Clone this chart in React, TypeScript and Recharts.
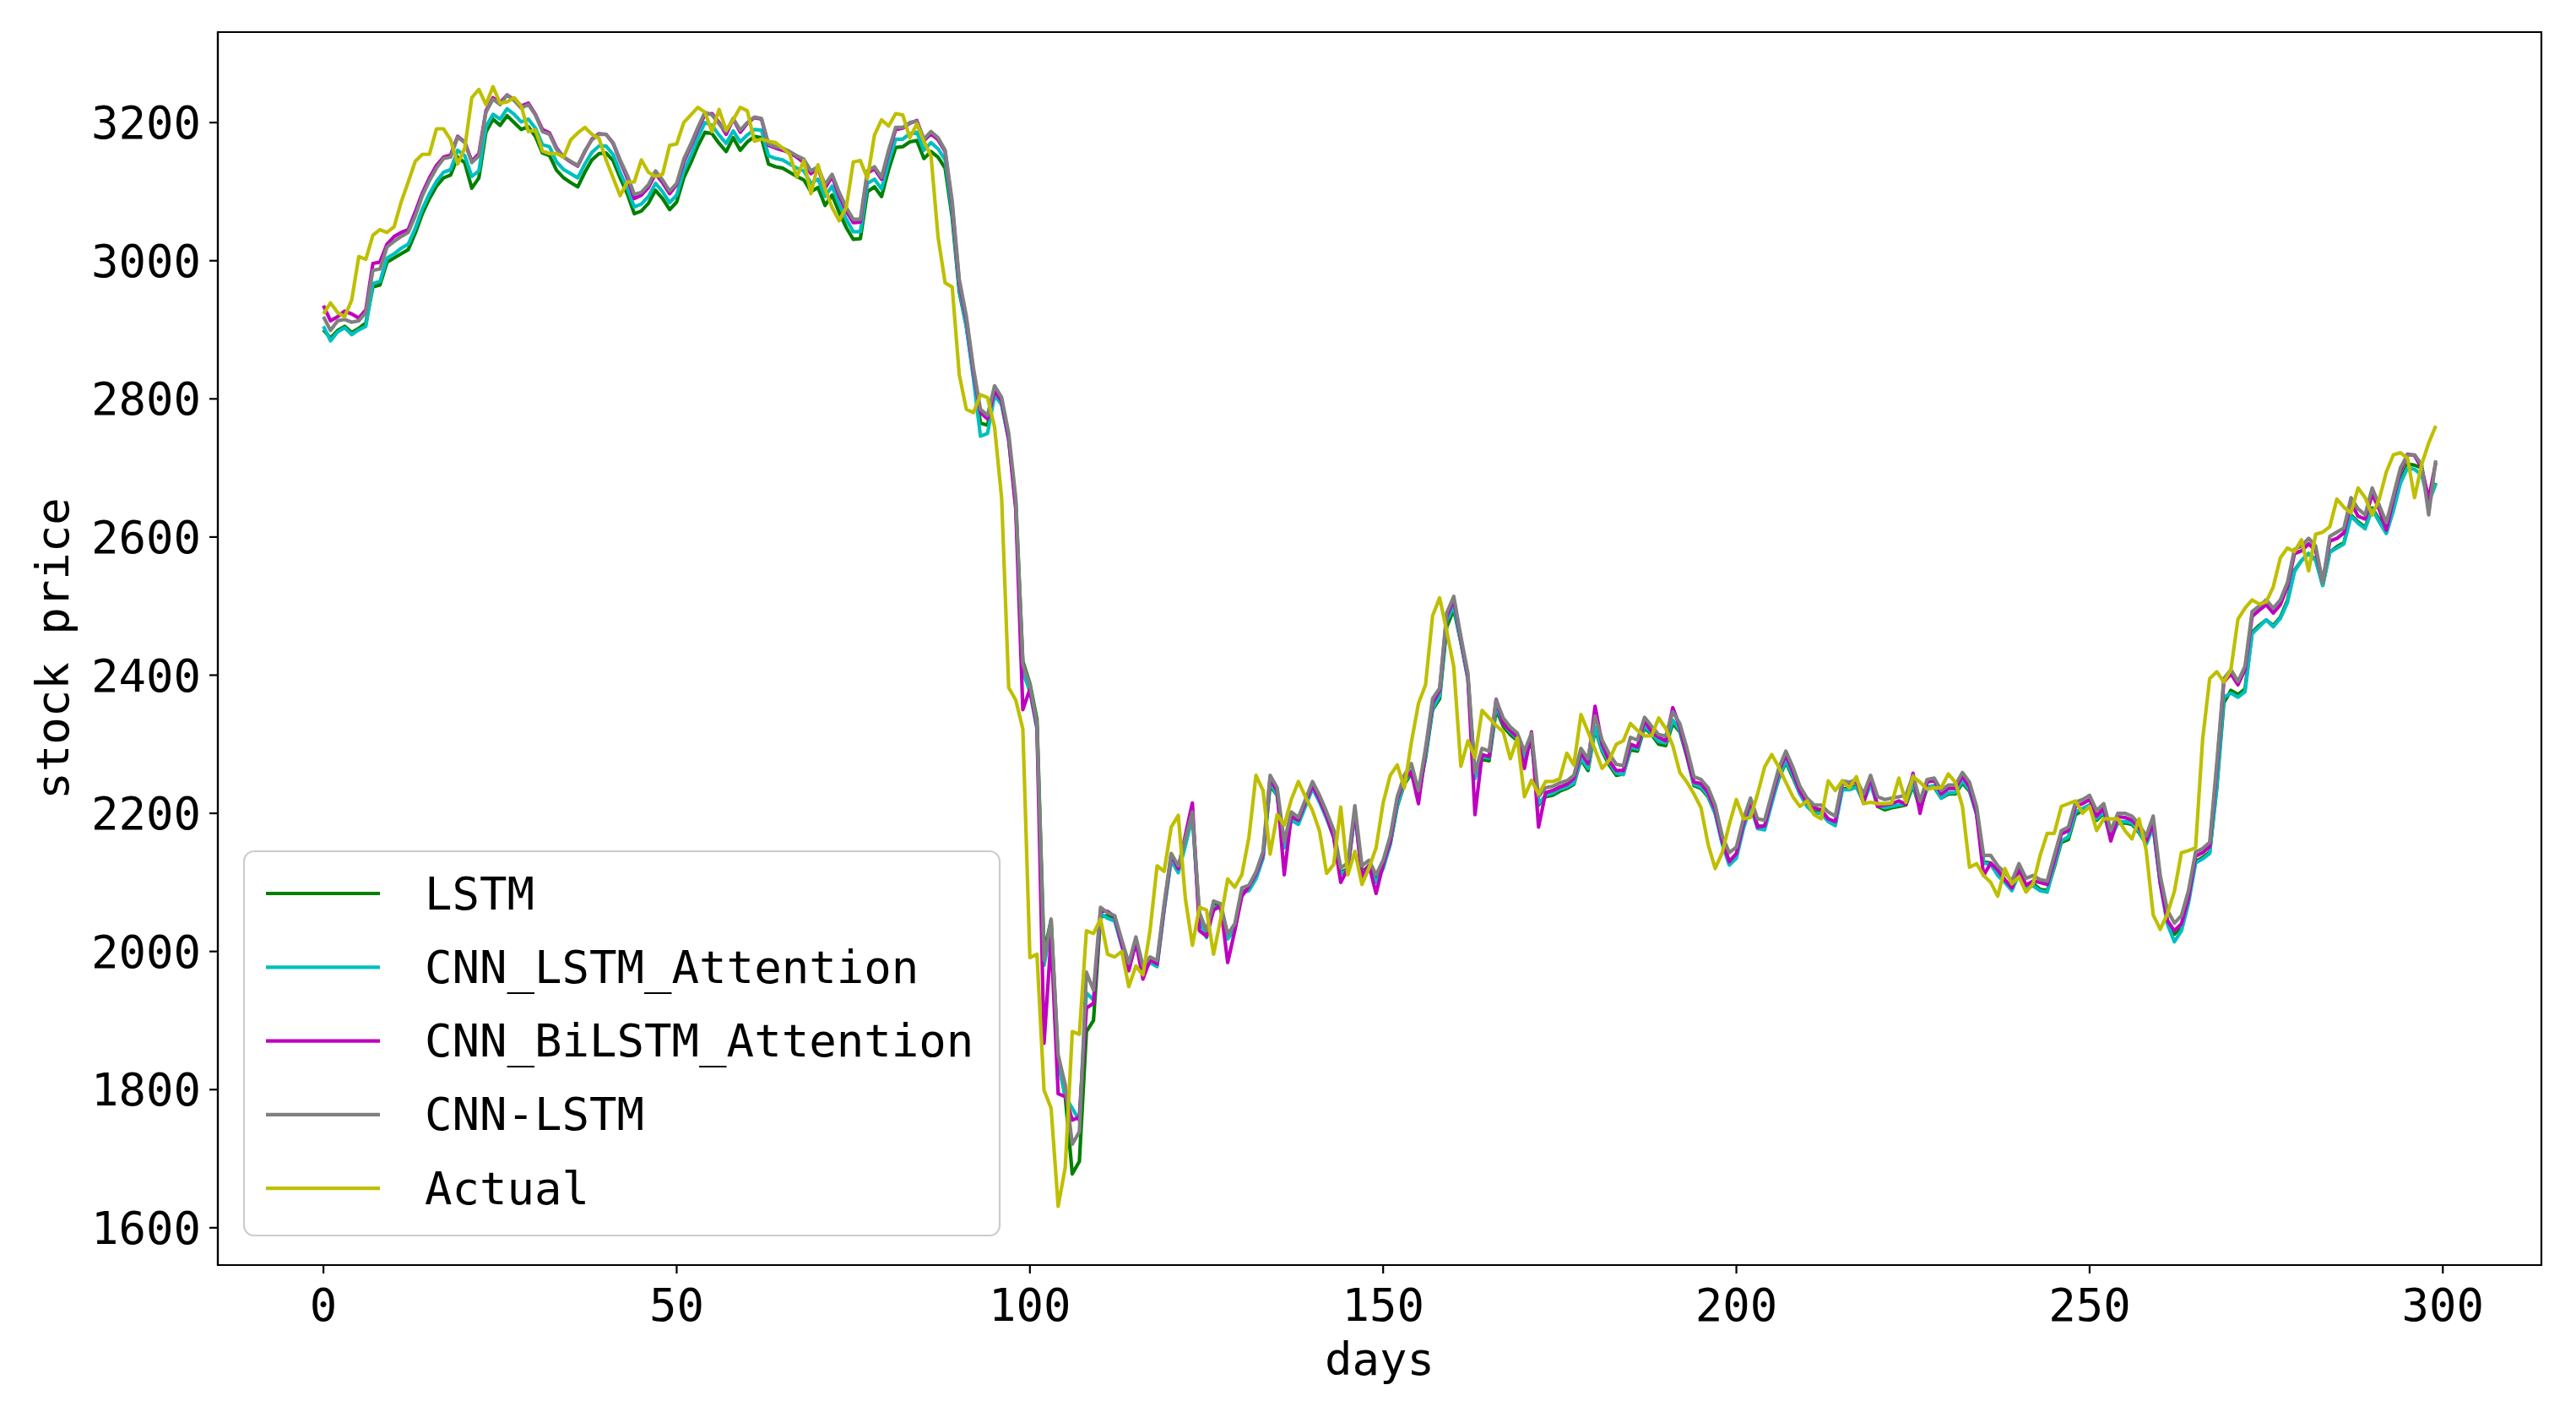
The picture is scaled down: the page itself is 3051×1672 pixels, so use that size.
import { LineChart, Line, XAxis, YAxis, ReferenceArea } from 'recharts';

// Values, one entry per day (0..299)
const actual = [
  2923, 2939, 2925, 2919, 2943, 3006, 3002, 3037, 3045, 3041,
  3049, 3085, 3114, 3144, 3154, 3154, 3191, 3191, 3175, 3140,
  3163, 3236, 3248, 3226, 3252, 3228, 3230, 3236, 3224, 3187,
  3189, 3159, 3155, 3155, 3150, 3175, 3185, 3193, 3183, 3177,
  3146, 3120, 3094, 3114, 3114, 3146, 3128, 3122, 3125, 3167,
  3169, 3200, 3211, 3222, 3215, 3187, 3219, 3189, 3204, 3222,
  3217, 3173, 3176, 3173, 3171, 3163, 3154, 3121, 3145, 3097,
  3139, 3104, 3077, 3058, 3077, 3143, 3145, 3119, 3182, 3204,
  3195, 3213, 3211, 3178, 3198, 3173, 3152, 3034, 2968, 2962,
  2835, 2785, 2780, 2806, 2802, 2759, 2656, 2382, 2364, 2322,
  1991, 1996, 1799, 1773, 1631, 1687, 1884, 1880, 2030, 2026,
  2047, 1996, 1992, 2000, 1949, 1979, 1966, 2030, 2124, 2116,
  2180, 2197, 2077, 2009, 2064, 2060, 1996, 2047, 2105, 2093,
  2111, 2165, 2255, 2233, 2141, 2198, 2183, 2220, 2246, 2224,
  2204, 2174, 2113, 2126, 2209, 2111, 2145, 2097, 2121, 2150,
  2215, 2255, 2270, 2237, 2303, 2359, 2386, 2486, 2512, 2464,
  2412, 2268, 2305, 2281, 2349, 2338, 2327, 2318, 2279, 2309,
  2224, 2248, 2228, 2246, 2246, 2250, 2287, 2270, 2343, 2318,
  2292, 2265, 2277, 2300, 2305, 2330, 2320, 2312, 2312, 2338,
  2323, 2298, 2259, 2245, 2228, 2208, 2155, 2120, 2143, 2184,
  2220, 2192, 2194, 2228, 2267, 2285, 2267, 2245, 2224, 2210,
  2218, 2198, 2192, 2247, 2233, 2247, 2237, 2253, 2214, 2216,
  2214, 2214, 2215, 2251, 2216, 2253, 2245, 2235, 2237, 2237,
  2257, 2245, 2210, 2122, 2127, 2110, 2100, 2080, 2120, 2098,
  2108, 2086, 2098, 2139, 2171, 2171, 2210, 2214, 2218, 2200,
  2210, 2175, 2192, 2192, 2192, 2175, 2163, 2192, 2147, 2053,
  2032, 2054, 2087, 2143, 2146, 2150, 2307, 2395, 2405, 2390,
  2408, 2481, 2497, 2509, 2503, 2506, 2528, 2570, 2584, 2579,
  2596, 2551, 2604, 2607, 2615, 2655, 2643, 2635, 2671, 2657,
  2632, 2655, 2694, 2719, 2722, 2714, 2657, 2705, 2736, 2761,
];

const cnnLstm = [
  2919, 2899, 2913, 2915, 2911, 2913, 2925, 2986, 2988, 3020,
  3028, 3035, 3041, 3065, 3094, 3116, 3134, 3148, 3150, 3179,
  3171, 3142, 3152, 3215, 3234, 3226, 3240, 3232, 3221, 3226,
  3211, 3187, 3183, 3161, 3150, 3144, 3138, 3159, 3175, 3183,
  3183, 3171, 3146, 3124, 3096, 3099, 3110, 3130, 3117, 3101,
  3112, 3147, 3169, 3193, 3215, 3211, 3198, 3187, 3206, 3189,
  3200, 3208, 3206, 3169, 3165, 3163, 3158, 3152, 3147, 3130,
  3136, 3110, 3125, 3099, 3077, 3060, 3060, 3130, 3136, 3121,
  3160, 3193, 3193, 3200, 3202, 3176, 3187, 3178, 3160, 3086,
  2973, 2920, 2845, 2785, 2776, 2819, 2802, 2750, 2656, 2416,
  2386, 2330, 1987, 2047, 1850, 1807, 1721, 1739, 1970, 1944,
  2064, 2056, 2052, 2017, 1983, 2021, 1979, 1992, 1987, 2069,
  2142, 2124, 2163, 2202, 2056, 2030, 2073, 2069, 2025, 2040,
  2092, 2096, 2115, 2145, 2255, 2237, 2159, 2202, 2194, 2220,
  2246, 2226, 2202, 2176, 2121, 2128, 2211, 2124, 2132, 2111,
  2132, 2167, 2224, 2255, 2272, 2233, 2294, 2366, 2381, 2490,
  2514, 2456, 2403, 2259, 2294, 2290, 2364, 2338, 2325, 2316,
  2290, 2316, 2224, 2237, 2239, 2244, 2247, 2255, 2294, 2279,
  2341, 2306, 2286, 2271, 2269, 2310, 2306, 2339, 2326, 2314,
  2312, 2347, 2330, 2294, 2253, 2249, 2237, 2212, 2167, 2143,
  2151, 2192, 2222, 2192, 2190, 2228, 2265, 2290, 2267, 2239,
  2222, 2212, 2212, 2202, 2196, 2247, 2245, 2249, 2228, 2255,
  2224, 2220, 2222, 2224, 2226, 2255, 2218, 2249, 2251, 2233,
  2241, 2241, 2259, 2245, 2210, 2139, 2139, 2124, 2114, 2102,
  2127, 2106, 2110, 2104, 2102, 2139, 2175, 2180, 2216, 2220,
  2226, 2204, 2214, 2175, 2200, 2200, 2196, 2184, 2167, 2196,
  2110, 2060, 2041, 2052, 2088, 2144, 2149, 2158, 2272, 2395,
  2408, 2391, 2413, 2492, 2500, 2509, 2497, 2509, 2534, 2582,
  2587, 2598, 2587, 2534, 2601, 2607, 2613, 2657, 2641, 2632,
  2671, 2646, 2621, 2660, 2700, 2719, 2719, 2705, 2632, 2711,
];

const cnnBiLstmAtt = [
  2935, 2913, 2919, 2927, 2923, 2917, 2929, 2996, 2998, 3024,
  3035, 3041, 3045, 3071, 3098, 3120, 3138, 3150, 3153, 3180,
  3172, 3144, 3155, 3217, 3236, 3229, 3240, 3233, 3224, 3228,
  3212, 3190, 3185, 3163, 3150, 3143, 3137, 3158, 3176, 3184,
  3183, 3170, 3144, 3120, 3090, 3095, 3106, 3126, 3113, 3097,
  3110, 3143, 3166, 3190, 3212, 3213, 3200, 3183, 3205, 3186,
  3199, 3207, 3205, 3167, 3163, 3160, 3156, 3150, 3142, 3126,
  3134, 3105, 3122, 3094, 3072, 3055, 3056, 3127, 3133, 3118,
  3157, 3190, 3192, 3199, 3203, 3174, 3184, 3175, 3158, 3080,
  2968, 2915, 2840, 2780, 2771, 2812, 2797, 2742, 2640, 2350,
  2380, 2325, 1867, 2020, 1794, 1790, 1756, 1760, 1918, 1925,
  2060, 2058, 2050, 2010, 1972, 2014, 1960, 1988, 1982, 2064,
  2140, 2120, 2168, 2215, 2030, 2022, 2060, 2066, 1984, 2030,
  2080, 2094, 2112, 2140, 2250, 2232, 2111, 2196, 2190, 2216,
  2240, 2220, 2196, 2165, 2100, 2120, 2205, 2108, 2125, 2084,
  2126, 2160, 2220, 2250, 2260, 2214, 2290, 2360, 2378, 2485,
  2510, 2452, 2398, 2198, 2285, 2282, 2365, 2330, 2320, 2310,
  2265, 2318, 2180, 2230, 2233, 2238, 2242, 2250, 2288, 2272,
  2355, 2300, 2276, 2262, 2262, 2300, 2296, 2335, 2318, 2310,
  2305, 2353, 2325, 2284, 2245, 2243, 2230, 2205, 2160, 2130,
  2142, 2185, 2218, 2180, 2182, 2222, 2260, 2285, 2260, 2232,
  2215, 2208, 2205, 2192, 2188, 2244, 2240, 2247, 2215, 2252,
  2210, 2212, 2214, 2218, 2213, 2258, 2200, 2245, 2248, 2228,
  2236, 2236, 2254, 2238, 2200, 2110, 2128, 2118, 2104, 2092,
  2120, 2096, 2102, 2100, 2097, 2132, 2170, 2175, 2210, 2214,
  2220, 2196, 2208, 2160, 2195, 2194, 2190, 2180, 2160, 2185,
  2100, 2045, 2030, 2040, 2078, 2138, 2143, 2152, 2265, 2390,
  2402, 2386, 2408, 2485, 2494, 2502, 2490, 2502, 2528, 2576,
  2580, 2590, 2580, 2536, 2594, 2598, 2606, 2650, 2630, 2626,
  2662, 2640, 2610, 2655, 2695, 2720, 2718, 2700, 2655, 2708,
];

const cnnLstmAtt = [
  2905, 2884, 2897, 2903, 2893, 2900, 2905, 2967, 2970, 3004,
  3010, 3018, 3024, 3047, 3075, 3097, 3115, 3128, 3132, 3160,
  3152, 3122, 3130, 3194, 3212, 3205, 3220, 3212, 3201, 3205,
  3192, 3168, 3165, 3143, 3132, 3126, 3120, 3140, 3157, 3166,
  3166, 3154, 3128, 3105, 3078, 3082, 3093, 3112, 3100, 3084,
  3095, 3130, 3152, 3178, 3200, 3196, 3182, 3170, 3188, 3172,
  3182, 3190, 3189, 3152, 3148, 3146, 3140, 3134, 3130, 3112,
  3118, 3093, 3108, 3082, 3060, 3042, 3042, 3112, 3118, 3104,
  3143, 3176, 3176, 3184, 3186, 3160, 3171, 3162, 3146, 3070,
  2960, 2905, 2830, 2746, 2750, 2805, 2792, 2740, 2645, 2405,
  2376, 2322, 1980, 2035, 1840, 1790, 1773, 1755, 1940, 1930,
  2055, 2048, 2044, 2008, 1975, 2012, 1970, 1984, 1978, 2060,
  2132, 2114, 2153, 2195, 2046, 2020, 2065, 2062, 2018, 2032,
  2085, 2088, 2105, 2135, 2245, 2226, 2150, 2190, 2184, 2210,
  2236, 2216, 2192, 2166, 2112, 2118, 2200, 2112, 2120, 2100,
  2120, 2156, 2212, 2244, 2262, 2222, 2284, 2352, 2370, 2478,
  2500, 2448, 2395, 2250, 2282, 2280, 2356, 2330, 2318, 2308,
  2282, 2308, 2214, 2226, 2229, 2235, 2238, 2244, 2280, 2265,
  2325, 2292, 2274, 2258, 2256, 2296, 2293, 2327, 2316, 2304,
  2302, 2335, 2320, 2284, 2242, 2238, 2226, 2200, 2155, 2125,
  2135, 2178, 2210, 2178, 2176, 2214, 2252, 2276, 2255, 2228,
  2210, 2200, 2200, 2188, 2182, 2234, 2234, 2238, 2216, 2242,
  2212, 2208, 2210, 2212, 2214, 2244, 2208, 2238, 2240, 2222,
  2230, 2230, 2247, 2234, 2198, 2128, 2126, 2110, 2100, 2088,
  2112, 2092, 2095, 2088, 2086, 2125, 2160, 2166, 2202, 2207,
  2212, 2192, 2202, 2162, 2188, 2188, 2186, 2174, 2155, 2180,
  2098, 2040, 2014, 2030, 2070, 2128, 2134, 2142, 2240, 2368,
  2374, 2368, 2376, 2460, 2470, 2480, 2470, 2482, 2505, 2550,
  2566, 2576, 2566, 2530, 2578, 2584, 2590, 2630, 2620, 2612,
  2640, 2622, 2605, 2638, 2678, 2700, 2698, 2690, 2650, 2677,
];

const lstm = [
  2900, 2888, 2899, 2905, 2896, 2902, 2910, 2962, 2965, 2998,
  3004, 3010, 3016, 3040, 3068, 3090, 3108, 3120, 3124, 3150,
  3142, 3105, 3120, 3186, 3205, 3196, 3210, 3200, 3190, 3194,
  3180, 3156, 3152, 3131, 3120, 3113, 3107, 3128, 3146, 3155,
  3156, 3145, 3120, 3097, 3068, 3072, 3083, 3102, 3090, 3074,
  3085, 3120, 3142, 3166, 3186, 3184, 3170, 3158, 3178, 3160,
  3172, 3180, 3178, 3140, 3136, 3134, 3128, 3122, 3117, 3100,
  3106, 3080, 3095, 3070, 3048, 3031, 3032, 3100, 3107, 3093,
  3132, 3164, 3165, 3172, 3174, 3148, 3158, 3150, 3134, 3062,
  2955, 2905, 2835, 2765, 2762, 2808, 2792, 2742, 2650, 2420,
  2388, 2336, 2000, 2045, 1842, 1790, 1678, 1696, 1884, 1900,
  2050, 2052, 2048, 2012, 1978, 2016, 1974, 1987, 1980, 2062,
  2136, 2118, 2158, 2198, 2050, 2025, 2068, 2064, 2020, 2035,
  2086, 2090, 2108, 2138, 2240, 2226, 2152, 2192, 2186, 2212,
  2238, 2218, 2194, 2168, 2114, 2120, 2200, 2115, 2124, 2104,
  2122, 2155, 2210, 2242, 2258, 2226, 2280, 2350, 2366, 2470,
  2495, 2448, 2395, 2255, 2278, 2276, 2350, 2326, 2314, 2305,
  2280, 2305, 2212, 2224, 2226, 2232, 2236, 2242, 2278, 2262,
  2322, 2290, 2270, 2255, 2257, 2292, 2290, 2324, 2314, 2300,
  2298, 2330, 2318, 2282, 2240, 2236, 2224, 2200, 2158, 2130,
  2138, 2180, 2212, 2182, 2180, 2216, 2250, 2274, 2252, 2228,
  2212, 2202, 2202, 2190, 2186, 2236, 2235, 2240, 2220, 2244,
  2210, 2205, 2208, 2210, 2212, 2240, 2206, 2236, 2238, 2222,
  2228, 2228, 2244, 2232, 2200, 2130, 2128, 2112, 2102, 2090,
  2114, 2094, 2098, 2090, 2088, 2122, 2158, 2162, 2198, 2204,
  2210, 2190, 2200, 2165, 2186, 2186, 2184, 2172, 2156, 2182,
  2100, 2045, 2025, 2036, 2074, 2130, 2136, 2144, 2236, 2360,
  2378, 2372, 2380, 2462, 2472, 2480, 2472, 2484, 2508, 2552,
  2566, 2576, 2568, 2530, 2578, 2586, 2592, 2632, 2622, 2614,
  2642, 2625, 2608, 2642, 2682, 2706, 2704, 2700, 2652, 2678,
];

const xTicks = [0, 50, 100, 150, 200, 250, 300];
const yTicks = [1600, 1800, 2000, 2200, 2400, 2600, 2800, 3000, 3200];

// drawing order matches the legend (Actual on top)
const series = [
  { key: 'lstm', name: 'LSTM', color: '#008000', values: lstm },
  { key: 'cnnLstmAtt', name: 'CNN_LSTM_Attention', color: '#00bfbf', values: cnnLstmAtt },
  { key: 'cnnBiLstmAtt', name: 'CNN_BiLSTM_Attention', color: '#bf00bf', values: cnnBiLstmAtt },
  { key: 'cnnLstm', name: 'CNN-LSTM', color: '#808080', values: cnnLstm },
  { key: 'actual', name: 'Actual', color: '#bfbf00', values: actual },
];

const data = actual.map((_, i) => {
  const row: Record<string, number> = { day: i };
  series.forEach((s) => {
    row[s.key] = s.values[i];
  });
  return row;
});

const W = 3051;
const H = 1672;
const X_DOMAIN: [number, number] = [-14.95, 313.95];
const Y_DOMAIN: [number, number] = [1546, 3331];
const FONT = '"DejaVu Sans Mono", monospace';
const FS = 54;

export default function App() {
  return (
    <div style={{ position: 'relative', width: W, height: H, background: '#fff' }}>
      <style>{`body{margin:0;background:#fff}`}</style>
      <LineChart
        width={W}
        height={H}
        data={data}
        margin={{ top: 38, right: 41, left: 108, bottom: 44 }}
      >
        <XAxis
          dataKey="day"
          type="number"
          domain={X_DOMAIN}
          ticks={xTicks}
          allowDataOverflow
          height={130}
          stroke="#000"
          axisLine={{ stroke: '#000', strokeWidth: 2.2 }}
          tickLine={{ stroke: '#000', strokeWidth: 2.2 }}
          tickSize={10}
          tickMargin={18}
          tick={{ fontSize: FS, fontFamily: FONT, fill: '#000' }}
        />
        <YAxis
          type="number"
          domain={Y_DOMAIN}
          ticks={yTicks}
          allowDataOverflow
          width={150}
          stroke="#000"
          axisLine={{ stroke: '#000', strokeWidth: 2.2 }}
          tickLine={{ stroke: '#000', strokeWidth: 2.2 }}
          tickSize={10}
          tickMargin={10}
          tick={{ fontSize: FS, fontFamily: FONT, fill: '#000' }}
        />
        <ReferenceArea
          x1={X_DOMAIN[0]}
          x2={X_DOMAIN[1]}
          y1={Y_DOMAIN[0]}
          y2={Y_DOMAIN[1]}
          fill="none"
          stroke="#000"
          strokeWidth={2.2}
          ifOverflow="visible"
        />
        {series.map((s) => (
          <Line
            key={s.key}
            type="linear"
            dataKey={s.key}
            name={s.name}
            stroke={s.color}
            strokeWidth={4.2}
            strokeLinejoin="round"
            dot={false}
            activeDot={false}
            isAnimationActive={false}
          />
        ))}
      </LineChart>

      {/* axis titles and legend, placed like the matplotlib original */}
      <svg
        width={W}
        height={H}
        style={{ position: 'absolute', left: 0, top: 0, pointerEvents: 'none' }}
      >
        <text
          x={1634}
          y={1628}
          textAnchor="middle"
          fontFamily={FONT}
          fontSize={FS}
          fill="#000"
        >
          days
        </text>
        <text
          x={62}
          y={768}
          textAnchor="middle"
          dominantBaseline="central"
          transform="rotate(-90 62 768)"
          fontFamily={FONT}
          fontSize={FS}
          fill="#000"
        >
          stock price
        </text>
        <rect
          x={289}
          y={1008}
          width={895}
          height={455}
          rx={12}
          fill="#fff"
          fillOpacity={0.8}
          stroke="#cccccc"
          strokeWidth={2.2}
        />
        {series.map((s, i) => {
          const y = 1058 + i * 87.3;
          return (
            <g key={s.key}>
              <line x1={315} x2={450} y1={y} y2={y} stroke={s.color} strokeWidth={4.2} />
              <text
                x={503}
                y={y}
                dominantBaseline="central"
                fontFamily={FONT}
                fontSize={FS}
                fill="#000"
              >
                {s.name}
              </text>
            </g>
          );
        })}
      </svg>
    </div>
  );
}
